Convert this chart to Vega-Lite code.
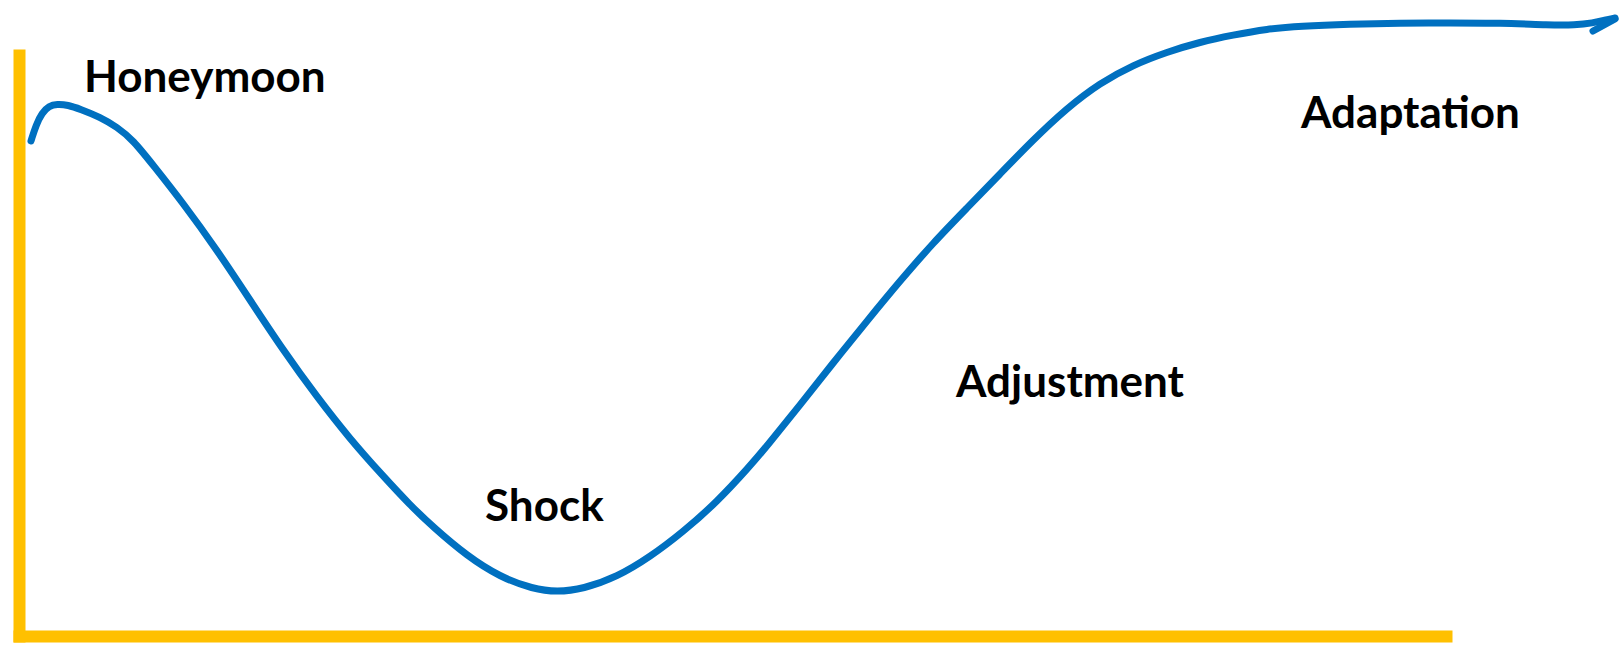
{
  "$schema": "https://vega.github.io/schema/vega-lite/v6.json",
  "width": 1427,
  "height": 581,
  "autosize": {"type": "none"},
  "padding": {"left": 19, "top": 55, "right": 177, "bottom": 14},
  "background": "white",
  "config": {"view": {"stroke": null}},
  "datasets": {
    "curve": [
      {"t": 12, "mood": 495}, {"t": 17, "mood": 511}, {"t": 23, "mood": 523}, {"t": 30, "mood": 530},
      {"t": 38, "mood": 532}, {"t": 49, "mood": 531}, {"t": 61, "mood": 527}, {"t": 81, "mood": 519},
      {"t": 98, "mood": 509}, {"t": 114, "mood": 496}, {"t": 134, "mood": 471}, {"t": 164, "mood": 433},
      {"t": 198, "mood": 386}, {"t": 231, "mood": 336}, {"t": 264, "mood": 286}, {"t": 298, "mood": 239},
      {"t": 331, "mood": 197}, {"t": 364, "mood": 160}, {"t": 391, "mood": 131}, {"t": 414, "mood": 109},
      {"t": 448, "mood": 80}, {"t": 481, "mood": 59}, {"t": 514, "mood": 47}, {"t": 538, "mood": 44},
      {"t": 564, "mood": 47}, {"t": 598, "mood": 59}, {"t": 631, "mood": 79}, {"t": 664, "mood": 104},
      {"t": 698, "mood": 134}, {"t": 731, "mood": 170}, {"t": 748, "mood": 190},
      {"t": 781, "mood": 231}, {"t": 814, "mood": 273}, {"t": 848, "mood": 315}, {"t": 881, "mood": 355},
      {"t": 914, "mood": 393}, {"t": 948, "mood": 428}, {"t": 981, "mood": 462}, {"t": 1014, "mood": 496},
      {"t": 1048, "mood": 528}, {"t": 1081, "mood": 553}, {"t": 1114, "mood": 571}, {"t": 1148, "mood": 584},
      {"t": 1181, "mood": 594}, {"t": 1214, "mood": 601}, {"t": 1248, "mood": 607}, {"t": 1281, "mood": 610},
      {"t": 1331, "mood": 612}, {"t": 1381, "mood": 613}, {"t": 1431, "mood": 613}, {"t": 1481, "mood": 613},
      {"t": 1531, "mood": 611}, {"t": 1556, "mood": 611}, {"t": 1574, "mood": 613}, {"t": 1586, "mood": 616},
      {"t": 1596, "mood": 618}
    ],
    "barb": [
      {"t": 1574, "mood": 605}, {"t": 1596, "mood": 617}
    ],
    "labels": [
      {"label": "Honeymoon", "t": 65, "mood": 544},
      {"label": "Shock", "t": 466, "mood": 115},
      {"label": "Adjustment", "t": 937, "mood": 239},
      {"label": "Adaptation", "t": 1282, "mood": 508}
    ]
  },
  "layer": [
    {
      "data": {"name": "curve"},
      "mark": {"type": "line", "color": "#0070C0", "strokeWidth": 7, "strokeCap": "round", "interpolate": "basis", "clip": false},
      "encoding": {
        "x": {
          "field": "t", "type": "quantitative",
          "scale": {"domain": [0, 1427], "nice": false, "zero": false},
          "axis": {"title": null, "labels": false, "ticks": false, "grid": false, "domainColor": "#FFC000", "domainWidth": 12, "domainCap": "square"}
        },
        "y": {
          "field": "mood", "type": "quantitative",
          "scale": {"domain": [0, 581], "nice": false, "zero": false},
          "axis": {"title": null, "labels": false, "ticks": false, "grid": false, "domainColor": "#FFC000", "domainWidth": 12, "domainCap": "square"}
        }
      }
    },
    {
      "data": {"name": "barb"},
      "mark": {"type": "line", "color": "#0070C0", "strokeWidth": 7, "strokeCap": "round", "clip": false},
      "encoding": {
        "x": {"field": "t", "type": "quantitative"},
        "y": {"field": "mood", "type": "quantitative"}
      }
    },
    {
      "data": {"name": "labels"},
      "mark": {"type": "text", "font": "Lato", "fontWeight": "bold", "fontSize": 44, "color": "#000000", "align": "left", "baseline": "alphabetic"},
      "encoding": {
        "x": {"field": "t", "type": "quantitative"},
        "y": {"field": "mood", "type": "quantitative"},
        "text": {"field": "label"}
      }
    }
  ]
}
